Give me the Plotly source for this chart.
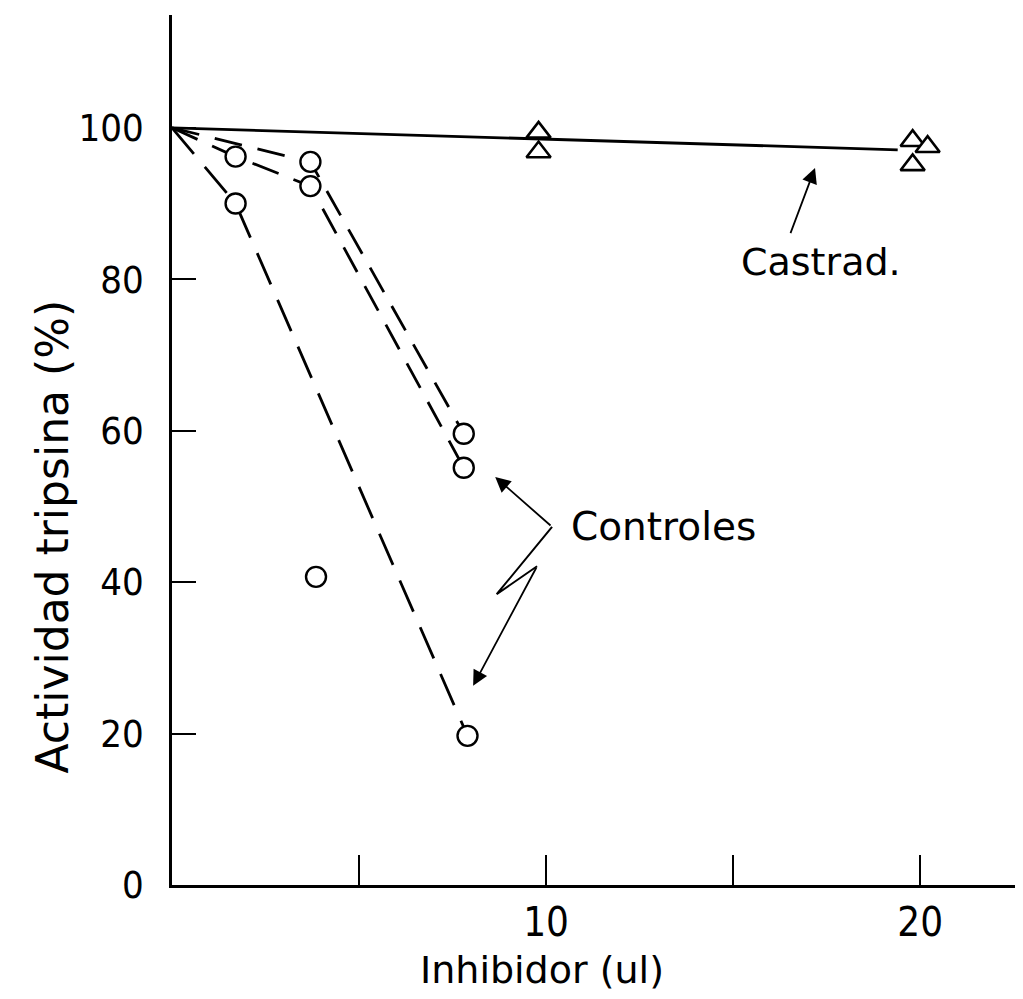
import plotly.graph_objects as go

# ---- data ----
# Controles (circles)
ctrl_x = [1.7, 1.7, 3.7, 3.7, 3.85, 7.8, 7.8, 7.9]
ctrl_y = [96.2, 90.0, 95.5, 92.3, 40.7, 59.6, 55.1, 19.7]

# dashed connecting lines of the control series
lineA_x = [0, 3.7, 7.8]
lineA_y = [100, 95.5, 59.6]
lineB_x = [0, 1.7, 3.7, 7.8]
lineB_y = [100, 96.2, 92.3, 55.1]
lineC_x = [0, 1.7, 7.9]
lineC_y = [100, 90.0, 19.7]

# Castrad. (triangles)
cast_x = [9.8, 9.8, 19.8, 19.8, 20.2]
cast_y = [99.4, 96.8, 98.3, 95.1, 97.5]
# solid line through castrated series
castline_x = [0, 19.4]
castline_y = [100, 97.1]

# axis ticks
y_ticks = [0, 20, 40, 60, 80, 100]
y_ticklabels = ["0", "20", "40", "60", "80", "100"]
x_ticks = [5, 10, 15, 20]
x_ticklabels = ["", "10", "", "20"]

# zig-zag leader of the "Controles" label
zig_x = [10.16, 8.68, 9.76]
zig_y = [47.3, 38.4, 42.1]

TXT = "DejaVu Sans, Verdana, sans-serif"
COND = "DejaVu Sans Condensed, Liberation Sans Narrow, DejaVu Sans, sans-serif"

fig = go.Figure()

fig.add_trace(go.Scatter(x=castline_x, y=castline_y, mode="lines",
                         line=dict(color="black", width=2.8), hoverinfo="skip"))
for lx, ly in [(lineA_x, lineA_y), (lineB_x, lineB_y)]:
    fig.add_trace(go.Scatter(x=lx, y=ly, mode="lines",
                             line=dict(color="black", width=2.8, dash="28px,16px")))
fig.add_trace(go.Scatter(x=lineC_x, y=lineC_y, mode="lines",
                         line=dict(color="black", width=2.8, dash="34px,17px")))
fig.add_trace(go.Scatter(x=zig_x, y=zig_y, mode="lines",
                         line=dict(color="black", width=2)))

fig.add_trace(go.Scatter(x=ctrl_x, y=ctrl_y, mode="markers",
                         marker=dict(symbol="circle", size=20, color="white",
                                     line=dict(color="black", width=2.4))))
fig.add_trace(go.Scatter(x=cast_x, y=cast_y, mode="markers",
                         marker=dict(symbol="triangle-up", size=21, color="white",
                                     line=dict(color="black", width=2.6))))

arrow = dict(showarrow=True, arrowhead=2, arrowsize=1.7, arrowwidth=1.8,
             arrowcolor="black", axref="x", ayref="y", text="", standoff=0)
fig.add_annotation(x=17.19, y=94.7, ax=16.52, ay=85.9, **arrow)
fig.add_annotation(x=8.64, y=53.9, ax=10.16, ay=47.3, **arrow)
fig.add_annotation(x=8.05, y=26.3, ax=9.76, ay=42.1, **arrow)

fig.add_annotation(x=15.15, y=82.3, text="Castrad.", showarrow=False,
                   xanchor="left", yanchor="middle",
                   font=dict(family=TXT, size=38, color="black"))
fig.add_annotation(x=10.6, y=47.3, text="Controles", showarrow=False,
                   xanchor="left", yanchor="middle",
                   font=dict(family=TXT, size=39, color="black"))
fig.add_annotation(x=9.9, y=-0.098, xref="x", yref="paper", text="Inhibidor (ul)",
                   showarrow=False, xanchor="center", yanchor="middle",
                   font=dict(family=TXT, size=38, color="black"))
fig.add_annotation(x=-0.14, xref="paper", y=46, yref="y", text="Actividad tripsina (%)",
                   textangle=-90, showarrow=False, xanchor="center", yanchor="middle",
                   font=dict(family=TXT, size=44, color="black"))

fig.update_layout(
    width=1015, height=991,
    margin=dict(l=164, r=0, t=7, b=114),
    paper_bgcolor="white", plot_bgcolor="white",
    showlegend=False,
)
fig.update_xaxes(range=[0, 22.75], showgrid=False, zeroline=False,
                 showline=True, linecolor="black", linewidth=2.5,
                 tickvals=x_ticks, ticktext=x_ticklabels,
                 ticks="inside", ticklen=30, tickwidth=2, tickcolor="black",
                 tickfont=dict(family=COND, size=40, color="black"),
                 ticklabelstandoff=0)
fig.update_yaxes(range=[0, 114.9], showgrid=False, zeroline=False,
                 showline=True, linecolor="black", linewidth=2.5,
                 tickvals=y_ticks, ticktext=y_ticklabels,
                 ticks="inside", ticklen=24, tickwidth=2, tickcolor="black",
                 tickfont=dict(family=COND, size=38, color="black"),
                 ticklabelstandoff=18)

fig.write_html("out.html")
